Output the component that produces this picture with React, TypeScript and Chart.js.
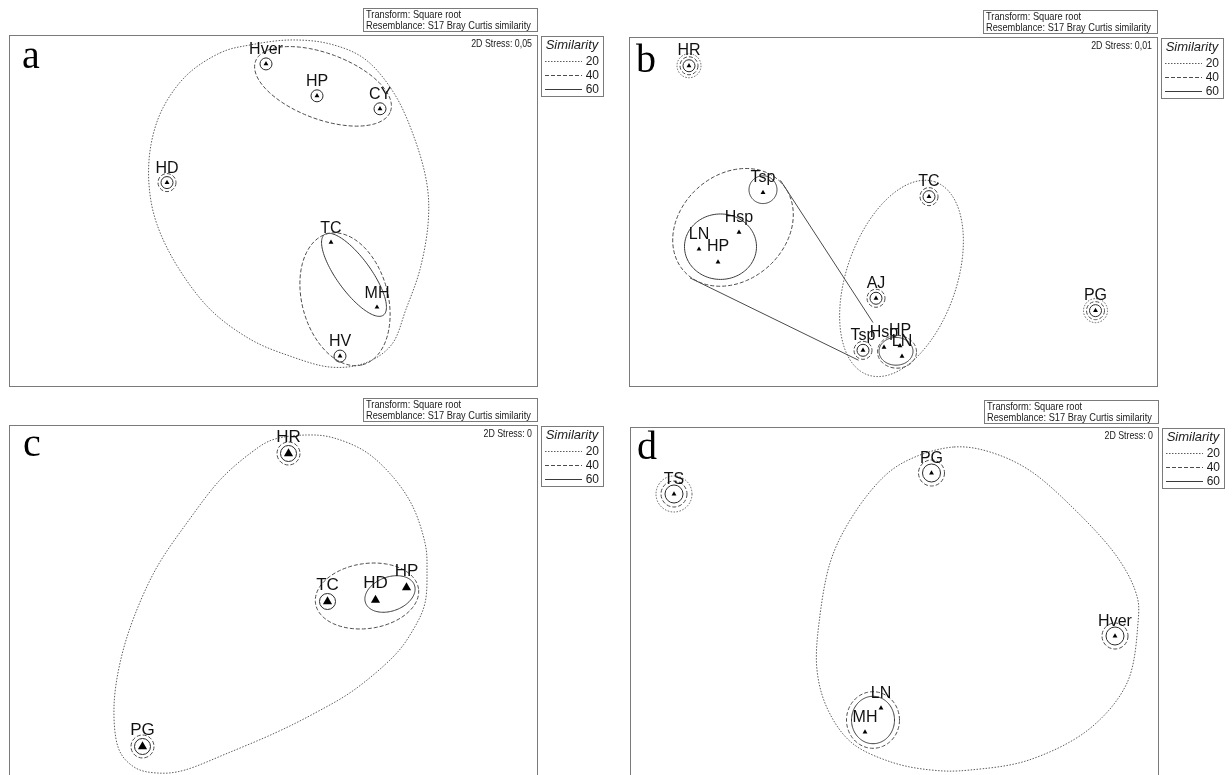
import React, { useEffect, useRef } from "react";
import { Chart, registerables } from "chart.js";
Chart.register(...registerables);

// ---------- shared values ----------
const similarityLevels = [20, 40, 60];
const transformLines = ["Transform: Square root", "Resemblance: S17 Bray Curtis similarity"];

// ---------- panel a ----------
const aNames = ["Hver", "HP", "CY", "HD", "TC", "MH", "HV"];
const aX = [-0.07, 0.44, 1.07, -1.06, 0.58, 1.04, 0.67];
const aY = [1.47, 1.15, 1.02, 0.28, -0.32, -0.97, -1.46];
const aRings = [[60], [60], [60], [60, 40], [], [], [60]];
const aEllipses = [
  { level: 40, x: 0.5, y: 1.245, a: 0.72, b: 0.33, rot: -20.5 },
  { level: 60, x: 0.81, y: -0.645, a: 0.5, b: 0.17, rot: -54 },
  { level: 40, x: 0.72, y: -0.89, a: 0.68, b: 0.43, rot: -75 },
];
const aHull20 = [
  [-0.53, 1.58], [-0.23, 1.66], [0.17, 1.71], [0.57, 1.67], [0.93, 1.51], [1.22, 1.16],
  [1.42, 0.71], [1.54, 0.26], [1.55, -0.14], [1.47, -0.59], [1.33, -0.99], [1.19, -1.34],
  [0.92, -1.53], [0.57, -1.57], [0.17, -1.46], [-0.23, -1.29], [-0.63, -0.99], [-0.95, -0.57],
  [-1.16, -0.14], [-1.24, 0.26], [-1.22, 0.66], [-1.1, 1.03], [-0.86, 1.36],
];
const aStress = "0,05";

// ---------- panel b ----------
const bNames = ["HR", "TC", "AJ", "PG", "Tsp", "Hsp", "HP", "LN"];
const bX = [-2.04, 0.36, -0.17, 2.025, -0.3, -0.09, 0.07, 0.09];
const bY = [1.47, 0.15, -0.875, -1.0, -1.4, -1.37, -1.355, -1.46];
const bRings = [[60, 40, 20], [60, 40], [60, 40], [60, 40, 20], [60, 40], [], [], []];
const bInsetNames = ["Tsp", "Hsp", "LN", "HP"];
const bInsetX = [-1.3, -1.54, -1.94, -1.75];
const bInsetY = [0.19, -0.21, -0.38, -0.51];
const bEllipses = [
  { level: 60, x: -1.3, y: 0.22, a: 0.14, b: 0.14, rot: 0 },
  { level: 60, x: -1.725, y: -0.355, a: 0.36, b: 0.33, rot: 0 },
  { level: 40, x: -1.6, y: -0.16, a: 0.66, b: 0.53, rot: 43 },
  { level: 60, x: 0.03, y: -1.41, a: 0.17, b: 0.14, rot: 0 },
  { level: 40, x: 0.04, y: -1.415, a: 0.195, b: 0.165, rot: 0 },
  { level: 20, x: 0.085, y: -0.675, a: 1.03, b: 0.55, rot: 71 },
];
const bZoomLines = [
  [[-1.125, 0.313], [-0.2, -1.12]],
  [[-2.03, -0.67], [-0.345, -1.5]],
];
const bStress = "0,01";

// ---------- panel c ----------
const cNames = ["HR", "TC", "HD", "HP", "PG"];
const cX = [0.155, 0.545, 1.025, 1.335, -1.305];
const cY = [1.475, -0.005, 0.01, 0.135, -1.455];
const cRings = [[60, 40], [60], [], [], [60, 40]];
const cEllipses = [
  { level: 60, x: 1.17, y: 0.07, a: 0.26, b: 0.17, rot: 20 },
  { level: 40, x: 0.94, y: 0.05, a: 0.52, b: 0.325, rot: 8 },
];
const cHull20 = [
  [-0.21, 1.49], [0.02, 1.62], [0.34, 1.66], [0.61, 1.63], [0.93, 1.49], [1.2, 1.24],
  [1.4, 0.94], [1.52, 0.58], [1.54, 0.31], [1.52, -0.02], [1.4, -0.29], [1.2, -0.56],
  [0.81, -0.89], [0.42, -1.12], [0.02, -1.32], [-0.45, -1.52], [-0.88, -1.69], [-1.16, -1.72],
  [-1.39, -1.66], [-1.55, -1.46], [-1.59, -1.06], [-1.53, -0.62], [-1.39, -0.16], [-1.16, 0.34],
  [-0.84, 0.81], [-0.53, 1.21],
];
const cStress = "0";

// ---------- panel d ----------
const dNames = ["TS", "PG", "Hver", "LN", "MH"];
const dX = [-2.2, 0.375, 2.21, -0.13, -0.29];
const dY = [1.09, 1.3, -0.33, -1.05, -1.29];
const dRings = [[60, 40, 20], [60, 40], [60, 40], [], []];
const dEllipses = [
  { level: 60, x: -0.21, y: -1.17, a: 0.215, b: 0.237, rot: 0 },
  { level: 40, x: -0.21, y: -1.17, a: 0.265, b: 0.283, rot: 0 },
];
const dHull20 = [
  [0.6, 1.56], [0.96, 1.51], [1.35, 1.33], [1.74, 1.0], [2.18, 0.53], [2.41, 0.13],
  [2.44, -0.2], [2.33, -0.8], [1.94, -1.27], [1.35, -1.57], [0.76, -1.67], [0.37, -1.67],
  [-0.03, -1.59], [-0.42, -1.4], [-0.66, -1.07], [-0.77, -0.67], [-0.75, -0.2], [-0.64, 0.4],
  [-0.42, 0.86], [-0.105, 1.26], [0.21, 1.46],
];
const dStress = "0";

// ---------- styling ----------
const LEVEL_STYLE: Record<number, { color: string; dash: number[]; width: number }> = {
  20: { color: "#5c5c5c", dash: [1.5, 1.5], width: 1 },
  40: { color: "#4c4c4c", dash: [4, 2], width: 1 },
  60: { color: "#3a3a3a", dash: [], width: 1 },
};
const SANS = '"Liberation Sans", Arial, sans-serif';
const NARROW = 0.84;

type Ell = { level: number; x: number; y: number; a: number; b: number; rot: number };
type PanelDef = {
  letter: string;
  stress: string;
  names: string[];
  xs: number[];
  ys: number[];
  rings: number[][];
  ellipses: Ell[];
  hulls: { level: number; pts: number[][] }[];
  insetNames?: string[];
  insetX?: number[];
  insetY?: number[];
  lines?: number[][][];
  pos: [number, number, number, number];
  pad: { left: number; top: number; right: number; bottom: number };
  ringR: Record<number, number>;
  tri: number;
  labelOff: number;
  labelSize: number;
  letterPos: [number, number];
};

function applyLevel(ctx: CanvasRenderingContext2D, level: number) {
  const s = LEVEL_STYLE[level];
  ctx.strokeStyle = s.color;
  ctx.lineWidth = s.width;
  ctx.setLineDash(s.dash);
}

function smoothClosed(ctx: CanvasRenderingContext2D, pts: [number, number][]) {
  const n = pts.length;
  ctx.beginPath();
  ctx.moveTo(pts[0][0], pts[0][1]);
  for (let i = 0; i < n; i++) {
    const p0 = pts[(i - 1 + n) % n];
    const p1 = pts[i];
    const p2 = pts[(i + 1) % n];
    const p3 = pts[(i + 2) % n];
    ctx.bezierCurveTo(
      p1[0] + (p2[0] - p0[0]) / 6,
      p1[1] + (p2[1] - p0[1]) / 6,
      p2[0] - (p3[0] - p1[0]) / 6,
      p2[1] - (p3[1] - p1[1]) / 6,
      p2[0],
      p2[1]
    );
  }
  ctx.closePath();
  ctx.stroke();
}

function narrowText(ctx: CanvasRenderingContext2D, text: string, x: number, y: number, align: CanvasTextAlign) {
  ctx.save();
  ctx.translate(x, y);
  ctx.scale(NARROW, 1);
  ctx.textAlign = align;
  ctx.fillText(text, 0, 0);
  ctx.restore();
}

function makePlugin(p: PanelDef) {
  const toPx = (c: any, x: number, y: number): [number, number] => [
    c.scales.x.getPixelForValue(x),
    c.scales.y.getPixelForValue(y),
  ];
  return {
    id: "nmds_" + p.letter,
    beforeDatasetsDraw(chart: any) {
      const ctx: CanvasRenderingContext2D = chart.ctx;
      const ca = chart.chartArea;
      ctx.save();
      ctx.beginPath();
      ctx.rect(ca.left, ca.top, ca.right - ca.left, ca.bottom - ca.top);
      ctx.clip();
      for (const h of p.hulls) {
        applyLevel(ctx, h.level);
        smoothClosed(ctx, h.pts.map((q) => toPx(chart, q[0], q[1])));
      }
      for (const e of p.ellipses) {
        applyLevel(ctx, e.level);
        const r = (e.rot * Math.PI) / 180;
        const n = 120;
        ctx.beginPath();
        for (let k = 0; k <= n; k++) {
          const t = (2 * Math.PI * k) / n;
          const dx = e.a * Math.cos(t);
          const dy = e.b * Math.sin(t);
          const [X, Y] = toPx(chart, e.x + dx * Math.cos(r) - dy * Math.sin(r), e.y + dx * Math.sin(r) + dy * Math.cos(r));
          if (k === 0) ctx.moveTo(X, Y);
          else ctx.lineTo(X, Y);
        }
        ctx.closePath();
        ctx.stroke();
      }
      p.xs.forEach((x, i) => {
        const [X, Y] = toPx(chart, x, p.ys[i]);
        for (const lv of p.rings[i]) {
          applyLevel(ctx, lv);
          if (lv === 60) ctx.strokeStyle = "#2a2a2a";
          ctx.beginPath();
          ctx.arc(X, Y, p.ringR[lv], 0, Math.PI * 2);
          ctx.stroke();
        }
      });
      ctx.restore();
    },
    afterDatasetsDraw(chart: any) {
      const ctx: CanvasRenderingContext2D = chart.ctx;
      ctx.save();
      ctx.fillStyle = "#111";
      ctx.font = `${p.labelSize}px ${SANS}`;
      ctx.textAlign = "center";
      ctx.textBaseline = "middle";
      p.xs.forEach((x, i) => {
        const [X, Y] = toPx(chart, x, p.ys[i]);
        ctx.fillText(p.names[i], X, Y - p.labelOff);
      });
      if (p.insetNames && p.insetX && p.insetY) {
        p.insetX.forEach((x, i) => {
          const [X, Y] = toPx(chart, x, p.insetY![i]);
          ctx.fillText(p.insetNames![i], X, Y - p.labelOff);
        });
      }
      ctx.restore();
    },
    afterDraw(chart: any) {
      const ctx: CanvasRenderingContext2D = chart.ctx;
      const ca = chart.chartArea;
      ctx.save();
      ctx.setLineDash([]);
      ctx.strokeStyle = "#7a7a7a";
      ctx.lineWidth = 1;
      ctx.strokeRect(Math.round(ca.left) + 0.5, Math.round(ca.top) + 0.5, Math.round(ca.right - ca.left), Math.round(ca.bottom - ca.top));
      // transform box
      const tbW = 174;
      const tbL = Math.round(ca.right) - tbW;
      const tbT = Math.round(ca.top) - 27;
      ctx.strokeRect(tbL + 0.5, tbT + 0.5, tbW, 23);
      ctx.fillStyle = "#1a1a1a";
      ctx.font = `11px ${SANS}`;
      ctx.textBaseline = "middle";
      narrowText(ctx, transformLines[0], tbL + 3, tbT + 7, "left");
      narrowText(ctx, transformLines[1], tbL + 3, tbT + 18, "left");
      // stress
      ctx.font = `10.5px ${SANS}`;
      narrowText(ctx, "2D Stress: " + p.stress, ca.right - 5, ca.top + 9, "right");
      // legend
      const lgL = Math.round(ca.right) + 4;
      const lgT = Math.round(ca.top) + 1;
      const lgW = 62;
      const lgH = 60;
      ctx.strokeStyle = "#7a7a7a";
      ctx.strokeRect(lgL + 0.5, lgT + 0.5, lgW, lgH);
      ctx.font = `italic 13px ${SANS}`;
      ctx.textAlign = "center";
      ctx.fillText("Similarity", lgL + lgW / 2, lgT + 9);
      similarityLevels.forEach((lv, i) => {
        const y = lgT + 25 + 14 * i;
        applyLevel(ctx, lv);
        ctx.beginPath();
        ctx.moveTo(lgL + 4, y + 0.5);
        ctx.lineTo(lgL + 41, y + 0.5);
        ctx.stroke();
        ctx.setLineDash([]);
        ctx.font = `12px ${SANS}`;
        ctx.textAlign = "right";
        ctx.fillText(String(lv), lgL + lgW - 4, y + 1);
      });
      // panel letter
      ctx.fillStyle = "#000";
      ctx.font = `40px "Liberation Serif", "Times New Roman", serif`;
      ctx.textAlign = "left";
      ctx.textBaseline = "alphabetic";
      ctx.fillText(p.letter, ca.left + p.letterPos[0], ca.top + p.letterPos[1]);
      ctx.restore();
    },
  };
}

function buildConfig(p: PanelDef): any {
  const datasets: any[] = [];
  (p.lines || []).forEach((ln) => {
    datasets.push({
      data: ln.map((q) => ({ x: q[0], y: q[1] })),
      showLine: true,
      pointRadius: 0,
      borderColor: "#4a4a4a",
      borderWidth: 1,
      fill: false,
    });
  });
  datasets.push({
    data: p.xs.map((x, i) => ({ x, y: p.ys[i] })),
    pointStyle: "triangle",
    pointRadius: p.tri,
    backgroundColor: "#000",
    borderColor: "#000",
    borderWidth: 0,
  });
  if (p.insetX && p.insetY) {
    datasets.push({
      data: p.insetX.map((x, i) => ({ x, y: p.insetY![i] })),
      pointStyle: "triangle",
      pointRadius: p.tri,
      backgroundColor: "#000",
      borderColor: "#000",
      borderWidth: 0,
    });
  }
  return {
    type: "scatter",
    data: { datasets },
    options: {
      animation: false,
      responsive: false,
      events: [],
      layout: { padding: p.pad },
      plugins: { legend: { display: false }, tooltip: { enabled: false } },
      scales: {
        x: { type: "linear", min: -2.64, max: 2.64, display: false },
        y: { type: "linear", min: -1.76, max: 1.76, display: false },
      },
    },
    plugins: [makePlugin(p)],
  };
}

const panels: PanelDef[] = [
  {
    letter: "a", stress: aStress, names: aNames, xs: aX, ys: aY, rings: aRings,
    ellipses: aEllipses, hulls: [{ level: 20, pts: aHull20 }],
    pos: [0, 0, 616, 390], pad: { left: 9, top: 35, right: 79, bottom: 3 },
    ringR: { 60: 6, 40: 9, 20: 12 }, tri: 2.8, labelOff: 14, labelSize: 16, letterPos: [13, 33],
  },
  {
    letter: "b", stress: bStress, names: bNames, xs: bX, ys: bY, rings: bRings,
    ellipses: bEllipses, hulls: [],
    insetNames: bInsetNames, insetX: bInsetX, insetY: bInsetY, lines: bZoomLines,
    pos: [616, 0, 616, 390], pad: { left: 13, top: 37, right: 75, bottom: 1 },
    ringR: { 60: 6, 40: 9, 20: 12 }, tri: 2.8, labelOff: 15, labelSize: 16, letterPos: [7, 35],
  },
  {
    letter: "c", stress: cStress, names: cNames, xs: cX, ys: cY, rings: cRings,
    ellipses: cEllipses, hulls: [{ level: 20, pts: cHull20 }],
    pos: [0, 390, 616, 400], pad: { left: 9, top: 35, right: 79, bottom: 13 },
    ringR: { 60: 8, 40: 11.5, 20: 15 }, tri: 5.3, labelOff: 16.5, labelSize: 17, letterPos: [14, 31],
  },
  {
    letter: "d", stress: dStress, names: dNames, xs: dX, ys: dY, rings: dRings,
    ellipses: dEllipses, hulls: [{ level: 20, pts: dHull20 }],
    pos: [616, 390, 616, 400], pad: { left: 14, top: 37, right: 74, bottom: 11 },
    ringR: { 60: 9, 40: 13, 20: 18 }, tri: 2.8, labelOff: 14.5, labelSize: 16, letterPos: [7, 32],
  },
];

function PanelChart({ def }: { def: PanelDef }) {
  const ref = useRef<HTMLCanvasElement>(null);
  useEffect(() => {
    if (!ref.current) return;
    const chart = new Chart(ref.current, buildConfig(def));
    return () => chart.destroy();
  }, [def]);
  const [l, t, w, h] = def.pos;
  return (
    <canvas
      ref={ref}
      width={w}
      height={h}
      style={{ position: "absolute", left: l, top: t, width: w, height: h, display: "block" }}
    />
  );
}

export default function App() {
  return (
    <div
      style={{
        position: "absolute",
        left: 0,
        top: 0,
        width: 1232,
        height: 775,
        overflow: "hidden",
        background: "#fff",
      }}
    >
      {panels.map((p) => (
        <PanelChart key={p.letter} def={p} />
      ))}
    </div>
  );
}
